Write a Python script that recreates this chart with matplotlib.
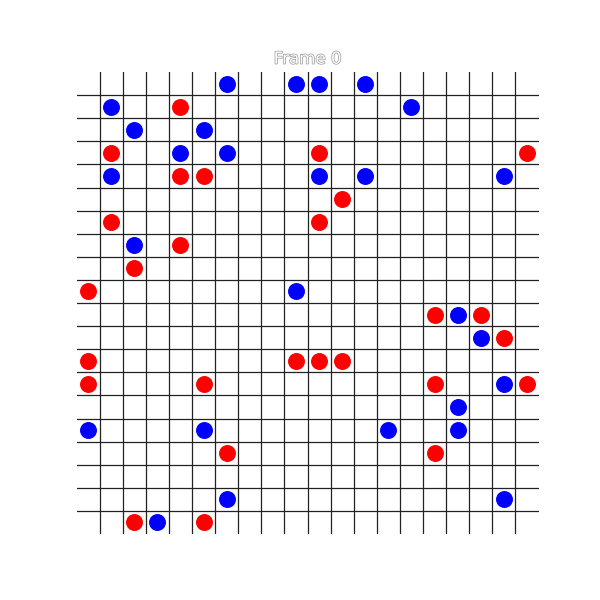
import numpy as np
import matplotlib
matplotlib.use("Agg")
import matplotlib.pyplot as plt
import matplotlib.patheffects as pe

# griglia 20x20, righe contate dall'alto
n = 20
blue_rows = [0, 0, 0, 0, 1, 1, 2, 2, 3, 3, 4, 4, 4, 4, 7, 9, 10, 11, 13, 14, 15, 15, 15, 15, 18, 18, 19]
blue_cols = [6, 9, 10, 12, 1, 14, 2, 5, 4, 6, 1, 10, 12, 18, 2, 9, 16, 17, 18, 16, 0, 5, 13, 16, 6, 18, 3]
red_rows = [1, 3, 3, 3, 4, 4, 5, 6, 6, 7, 8, 9, 10, 10, 11, 12, 12, 12, 12, 13, 13, 13, 13, 16, 16, 19, 19]
red_cols = [4, 1, 10, 19, 4, 5, 11, 1, 10, 4, 2, 0, 15, 17, 18, 0, 9, 10, 11, 0, 5, 15, 19, 6, 15, 2, 5]


def main():
    fig, ax = plt.subplots(figsize=(6, 6), dpi=100)
    # centro della cella = indice + 0.5
    ax.scatter(np.array(blue_cols) + 0.5, np.array(blue_rows) + 0.5, s=125, color="blue", zorder=3)
    ax.scatter(np.array(red_cols) + 0.5, np.array(red_rows) + 0.5, s=125, color="red", zorder=3)
    ax.set_xlim(0, n)
    ax.set_ylim(n, 0)
    ax.set_aspect("equal")
    ax.set_xticks(np.arange(1, n))
    ax.set_yticks(np.arange(1, n))
    ax.tick_params(length=0, labelbottom=False, labelleft=False)
    ax.grid(True, color="#222222", linewidth=0.9)
    for s in ax.spines.values():
        s.set_visible(False)
    t = ax.set_title("Frame 0", color="white", fontsize=12)
    t.set_path_effects([pe.withStroke(linewidth=1.0, foreground="#999999")])
    fig.savefig("out.png", dpi=100)


if __name__ == "__main__":
    main()
